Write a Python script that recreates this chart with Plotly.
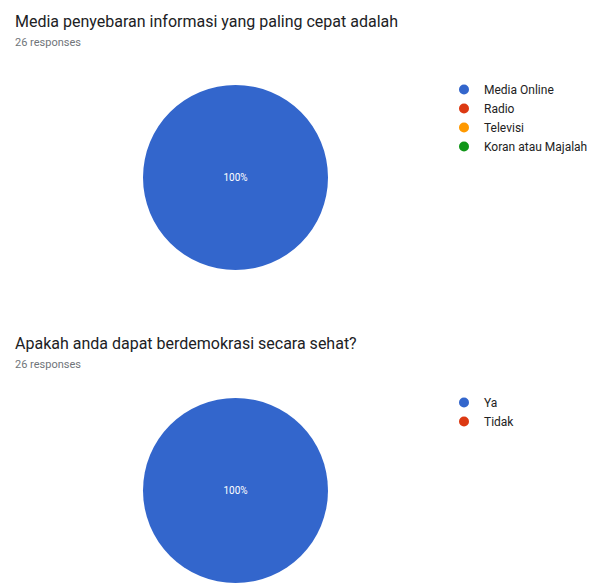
import plotly.graph_objects as go

W, H = 593, 583

# Chart 1 data
q1_title = "Media penyebaran informasi yang paling cepat adalah"
q1_responses = "26 responses"
q1_labels = ["Media Online", "Radio", "Televisi", "Koran atau Majalah"]
q1_values = [26, 0, 0, 0]
q1_colors = ["#3366cc", "#dc3912", "#ff9900", "#109618"]

# Chart 2 data
q2_title = "Apakah anda dapat berdemokrasi secara sehat?"
q2_responses = "26 responses"
q2_labels = ["Ya", "Tidak"]
q2_values = [26, 0]
q2_colors = ["#3366cc", "#dc3912"]

FONT = "Roboto"


def px_x(p):
    return p / W


def px_y(p):
    return 1 - p / H


fig = go.Figure()

# pies
cx, r = 235.5, 92.5
fig.add_trace(go.Pie(
    labels=q1_labels, values=q1_values,
    marker=dict(colors=q1_colors, line=dict(width=0)),
    domain=dict(x=[px_x(cx - r), px_x(cx + r)], y=[px_y(85 + 2 * r), px_y(85)]),
    textinfo="percent", textposition="inside",
    textfont=dict(color="white", size=10, family=FONT),
    sort=False, direction="clockwise", showlegend=False, hoverinfo="skip",
))
fig.add_trace(go.Pie(
    labels=q2_labels, values=q2_values,
    marker=dict(colors=q2_colors, line=dict(width=0)),
    domain=dict(x=[px_x(cx - r), px_x(cx + r)], y=[0, px_y(H - 2 * r)]),
    textinfo="percent", textposition="inside",
    textfont=dict(color="white", size=10, family=FONT),
    sort=False, direction="clockwise", showlegend=False, hoverinfo="skip",
))

# legend entries (circle markers)
for lab, col in zip(q1_labels, q1_colors):
    fig.add_trace(go.Scatter(x=[None], y=[None], mode="markers", name=lab,
                             marker=dict(color=col, size=10, symbol="circle"),
                             legend="legend"))
for lab, col in zip(q2_labels, q2_colors):
    fig.add_trace(go.Scatter(x=[None], y=[None], mode="markers", name=lab,
                             marker=dict(color=col, size=10, symbol="circle"),
                             legend="legend2"))

leg_common = dict(
    font=dict(family=FONT, size=12, color="#222222"),
    bgcolor="rgba(0,0,0,0)", borderwidth=0,
    xanchor="left", yanchor="top", itemclick=False, itemdoubleclick=False,
    tracegroupgap=0,
)

annotations = [
    dict(text=q1_title, x=px_x(13), y=px_y(22), xanchor="left", yanchor="middle",
         font=dict(family=FONT, size=16, color="#202124")),
    dict(text=q1_responses, x=px_x(13), y=px_y(43), xanchor="left", yanchor="middle",
         font=dict(family=FONT, size=11, color="#70757a")),
    dict(text=q2_title, x=px_x(13), y=px_y(343), xanchor="left", yanchor="middle",
         font=dict(family=FONT, size=16, color="#202124")),
    dict(text=q2_responses, x=px_x(13), y=px_y(364), xanchor="left", yanchor="middle",
         font=dict(family=FONT, size=11, color="#70757a")),
]
for a in annotations:
    a.update(xref="paper", yref="paper", showarrow=False)

fig.update_layout(
    width=W, height=H,
    margin=dict(l=0, r=0, t=0, b=0),
    paper_bgcolor="white", plot_bgcolor="white",
    xaxis=dict(visible=False), yaxis=dict(visible=False),
    legend=dict(x=px_x(444), y=px_y(75), **leg_common),
    legend2=dict(x=px_x(444), y=px_y(388), **leg_common),
    annotations=annotations,
    showlegend=True,
)

fig.write_html("out.html")
